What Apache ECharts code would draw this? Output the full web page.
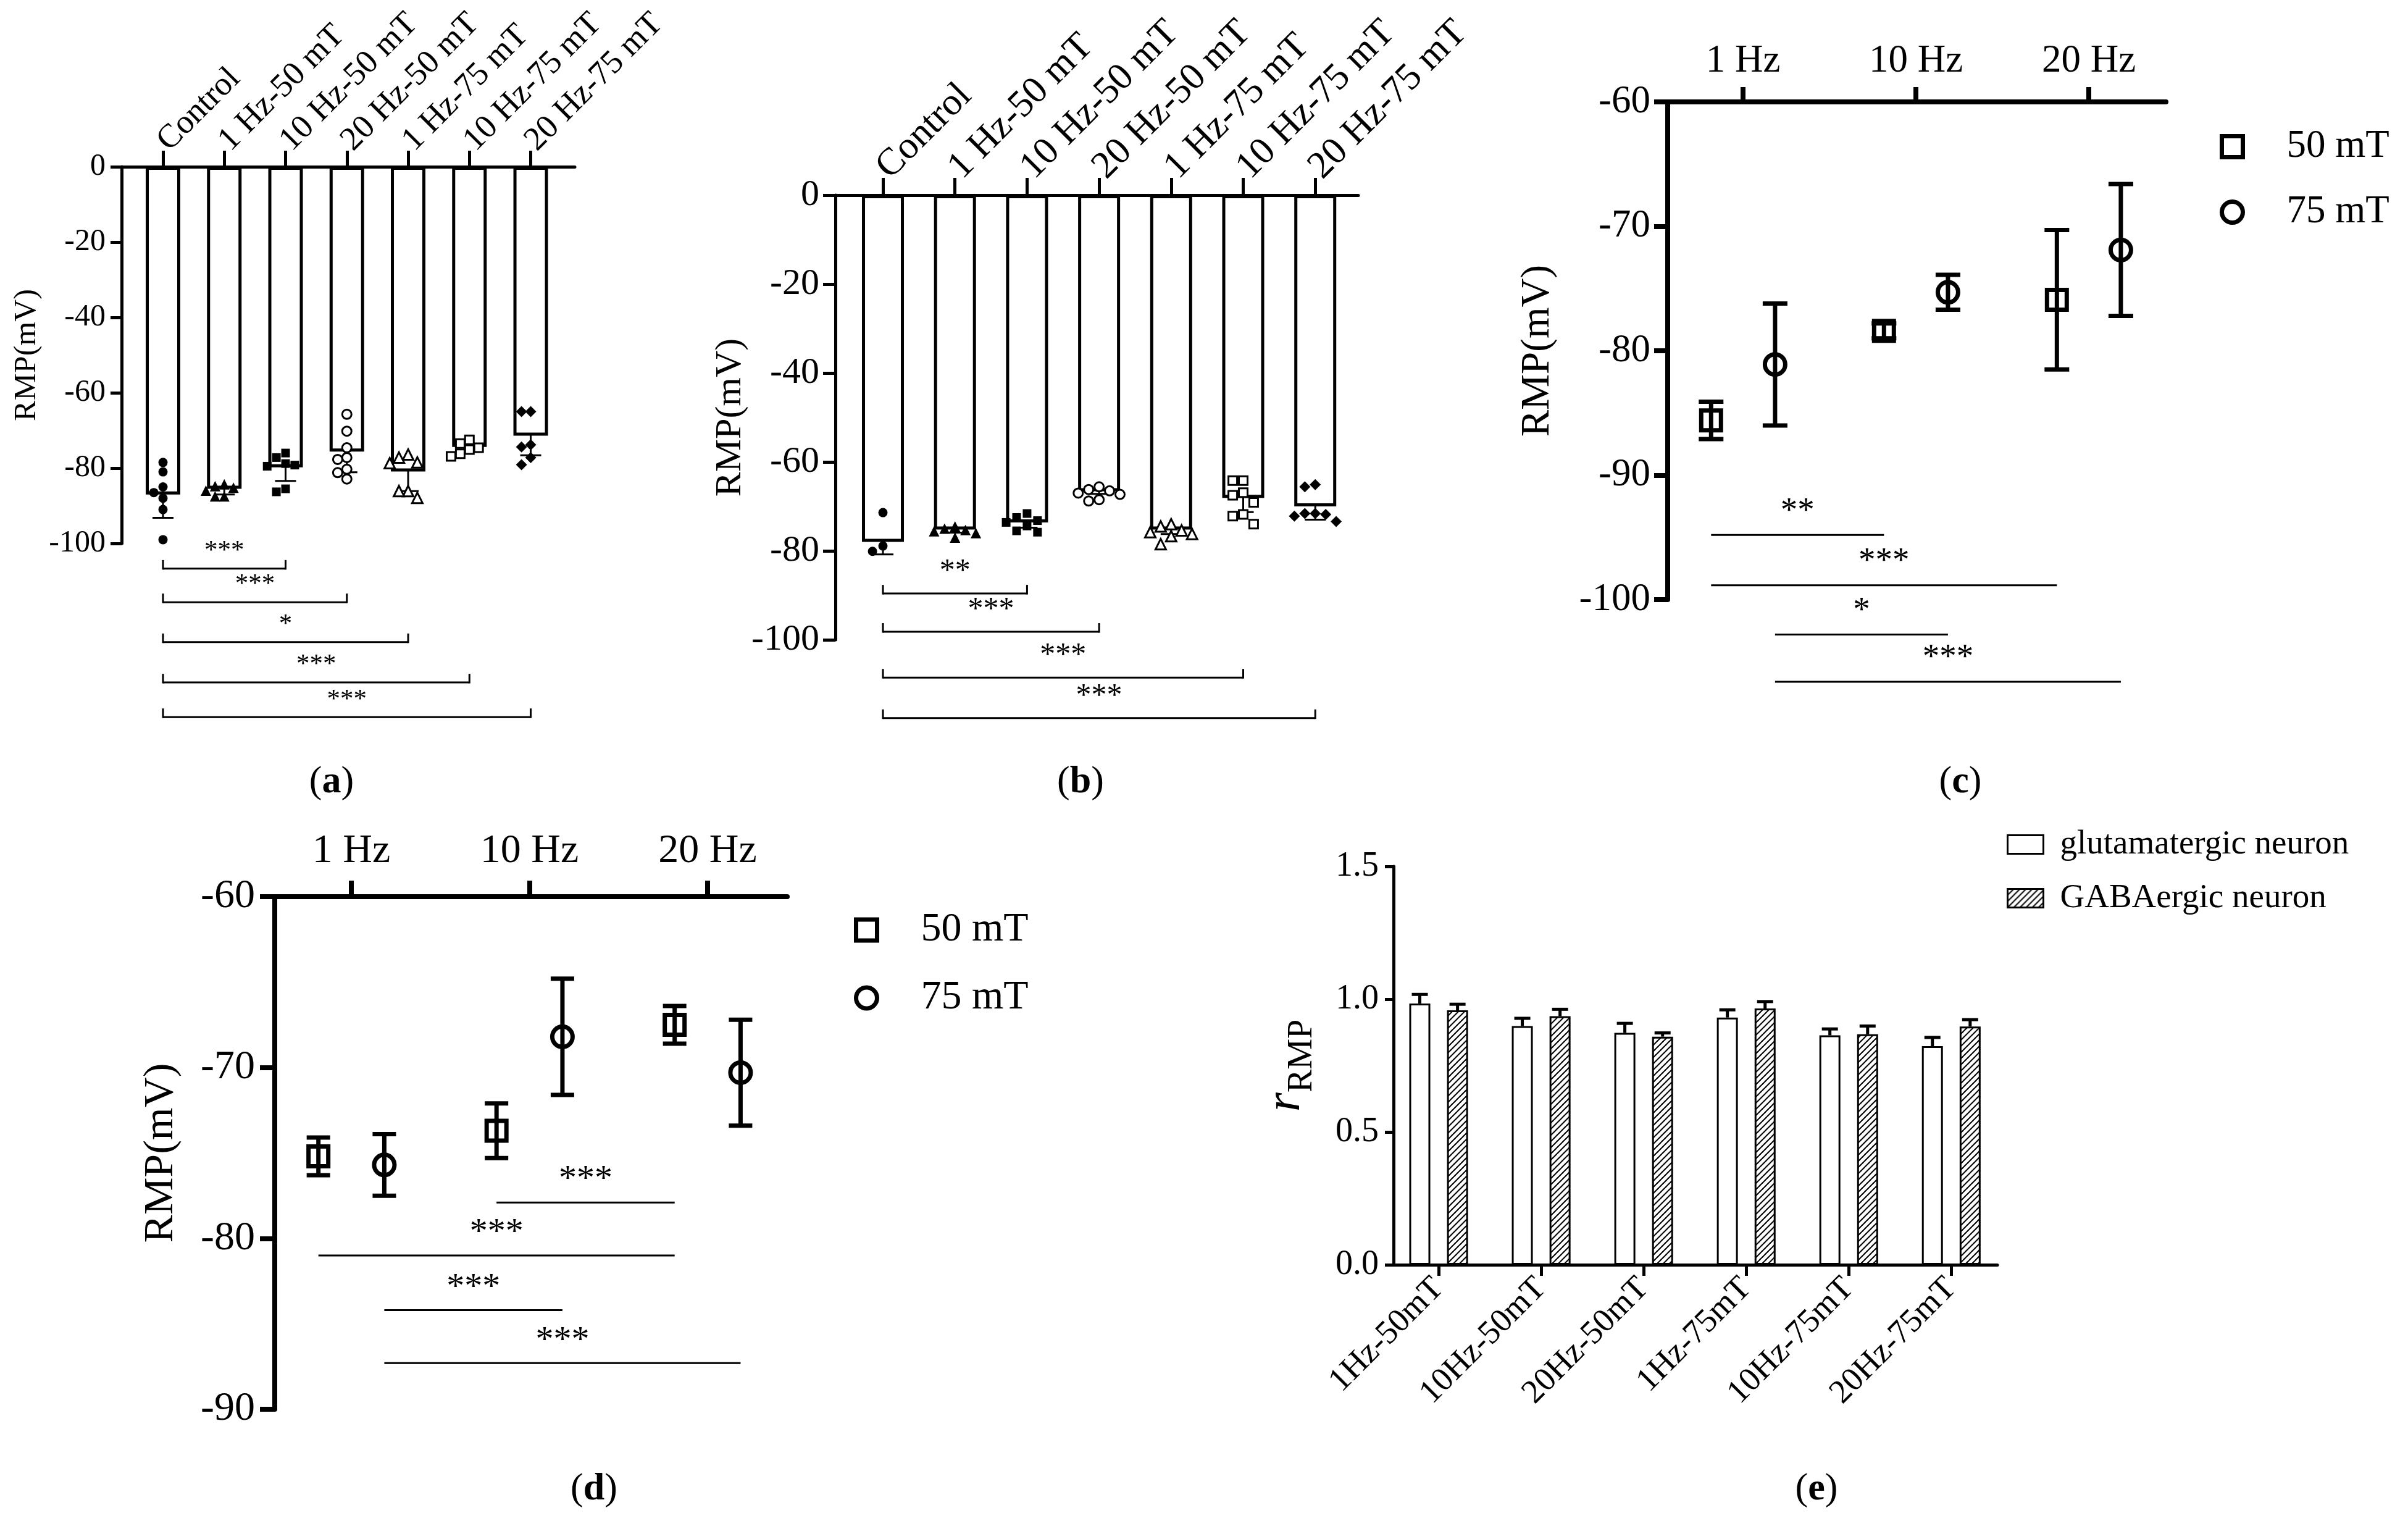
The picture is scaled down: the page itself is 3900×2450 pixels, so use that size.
<!DOCTYPE html>
<html><head><meta charset="utf-8">
<script src="https://cdn.jsdelivr.net/npm/echarts@6/dist/echarts.min.js"></script>
<style>html,body{margin:0;padding:0;background:#fff}#c{width:3900px;height:2450px}</style>
</head><body><div id="c"></div>
<script>
const FONT = 'Liberation Serif';

// ---------- Panel (a) / (b) ----------
const catsAB = ['Control','1 Hz-50 mT','10 Hz-50 mT','20 Hz-50 mT','1 Hz-75 mT','10 Hz-75 mT','20 Hz-75 mT'];
const aMean = [-87.0,-85.5,-79.8,-75.6,-80.9,-74.4,-71.4];
const aErr  = [6.2,1.5,3.6,5.5,5.2,1.0,5.2];
const aPts = [
  [-78.5,-81,-85,-86.5,-88,-91,-99],
  [-84.3,-84.8,-85.2,-86,-87.5,-87.5],
  [-76,-77.2,-78.8,-79.2,-79.5,-85.5,-86.3],
  [-65.7,-70.2,-74.6,-77.2,-77.7,-80.3,-81.2,-82.9],
  [-76.4,-77.2,-78.5,-78.7,-86.1,-86.1,-87.9],
  [-72.5,-73.5,-74.6,-75.1,-76.2,-76.9],
  [-65,-65,-73.8,-74.4,-77.2,-79.1]
];
const aSigFrom = [0,0,0,0,0];
const aSigTo   = [2,3,4,5,6];
const aSigText = ['***','***','*','***','***'];
const aSigLevel = [-106.7,-115.6,-126.2,-136.9,-146.1];

const bMean = [-78.0,-75.2,-73.6,-66.6,-75.2,-68.1,-70.0];
const bErr  = [2.8,0.7,1.2,0.6,1.0,3.2,3.0];
const bPts = [
  [-71.4,-78.9,-80.1],
  [-74.5,-75,-75.3,-75.6,-76,-77],
  [-71.6,-72.5,-73.2,-73.6,-74.4,-75.5,-75.8],
  [-65.6,-66.2,-66.5,-67,-67.3,-68.5,-68.8],
  [-74,-74.5,-75.4,-75.8,-76.2,-76.7,-78.5],
  [-64.2,-64.2,-66.9,-67.5,-69.1,-71.8,-72.2,-74],
  [-65.1,-65.6,-71.6,-71.6,-71.8,-72.2,-73.4]
];
const bSigFrom = [0,0,0,0];
const bSigTo   = [2,3,5,6];
const bSigText = ['**','***','***','***'];
const bSigLevel = [-89.6,-98.2,-108.5,-117.6];

// ---------- Panel (c) / (d) ----------
const freqs = ['1 Hz','10 Hz','20 Hz'];
const fieldNames = ['50 mT','75 mT'];
const c50Mean = [-85.6,-78.4,-75.9], c50Err = [1.5,0.6,5.6];
const c75Mean = [-81.1,-75.3,-71.9], c75Err = [4.9,1.4,5.3];
// significance: [field, freq] -> [field, freq]
const cSigFrom = [[0,0],[0,0],[1,0],[1,0]];
const cSigTo   = [[0,1],[0,2],[1,1],[1,2]];
const cSigText = ['**','***','*','***'];
const cSigLevel = [-94.8,-98.85,-102.8,-106.6];

const d50Mean = [-75.2,-73.7,-67.5], d50Err = [1.1,1.6,1.1];
const d75Mean = [-75.7,-68.2,-70.3], d75Err = [1.8,3.4,3.1];
const dSigFrom = [[0,1],[0,0],[1,0],[1,0]];
const dSigTo   = [[0,2],[0,2],[1,1],[1,2]];
const dSigText = ['***','***','***','***'];
const dSigLevel = [-77.9,-81.0,-84.2,-87.3];

// ---------- Panel (e) ----------
const eCats = ['1Hz-50mT','10Hz-50mT','20Hz-50mT','1Hz-75mT','10Hz-75mT','20Hz-75mT'];
const eSeriesNames = ['glutamatergic neuron','GABAergic neuron'];
const glutMean = [0.984,0.899,0.873,0.931,0.864,0.823];
const glutErr  = [0.034,0.029,0.036,0.029,0.024,0.033];
const gabaMean = [0.958,0.936,0.859,0.965,0.868,0.897];
const gabaErr  = [0.023,0.026,0.014,0.026,0.031,0.026];

// ---------- styles ----------
const markAB = [
  {symbol:'circle', fill:true, size:15},
  {symbol:'triangle', fill:true, size:17},
  {symbol:'rect', fill:true, size:14},
  {symbol:'circle', fill:false, size:15},
  {symbol:'triangle', fill:false, size:17},
  {symbol:'rect', fill:false, size:14},
  {symbol:'diamond', fill:true, size:18}
];
const FIELD_OFF = 0.185;   // group offset of 50 / 75 mT in c, d
const E_OFF = 0.184;       // offset of paired bars in e

function swarm(vals, yTol, dx){
  const idx = vals.map((v,i)=>i).sort((a,b)=>vals[b]-vals[a]);
  const placed = [], off = new Array(vals.length).fill(0);
  for (const i of idx){
    const cands=[0]; for(let k=1;k<6;k++){cands.push(-k*dx,k*dx);}
    for (const c of cands){
      if (placed.every(p => Math.abs(vals[p.i]-vals[i]) >= yTol || Math.abs(p.o-c) >= dx*0.95)){
        off[i]=c; placed.push({i:i,o:c}); break;
      }
    }
  }
  return off;
}

function errRender(capW, lw, upOnly){
  return function(params, api){
    const x=api.value(0), m=api.value(1), e=api.value(2);
    const top=api.coord([x,m+e]), bot=api.coord([x, upOnly ? m : m-e]);
    const st={stroke:'#000', lineWidth:lw, lineCap:'butt'};
    const ch=[
      {type:'line', shape:{x1:top[0],y1:top[1],x2:bot[0],y2:bot[1]}, style:st},
      {type:'line', shape:{x1:top[0]-capW/2,y1:top[1],x2:top[0]+capW/2,y2:top[1]}, style:st}
    ];
    if(!upOnly) ch.push({type:'line', shape:{x1:bot[0]-capW/2,y1:bot[1],x2:bot[0]+capW/2,y2:bot[1]}, style:st});
    return {type:'group', children:ch};
  };
}

function sigRender(texts, tickLen, lw, fs, textOff){
  return function(params, api){
    const x1=api.value(0), x2=api.value(1), y=api.value(2);
    const p1=api.coord([x1,y]), p2=api.coord([x2,y]);
    const st={stroke:'#000', lineWidth:lw};
    const ch=[{type:'line', shape:{x1:p1[0],y1:p1[1],x2:p2[0],y2:p2[1]}, style:st}];
    if(tickLen>0){
      ch.push({type:'line', shape:{x1:p1[0],y1:p1[1]+lw/2,x2:p1[0],y2:p1[1]-tickLen}, style:st});
      ch.push({type:'line', shape:{x1:p2[0],y1:p2[1]+lw/2,x2:p2[0],y2:p2[1]-tickLen}, style:st});
    }
    ch.push({type:'text', x:(p1[0]+p2[0])/2, y:p1[1]-textOff,
      style:{text:texts[params.dataIndex], fontSize:fs, fontFamily:FONT, fill:'#000', align:'center', verticalAlign:'middle'}});
    return {type:'group', children:ch};
  };
}

function hatchCanvas(){
  const s=10, c=document.createElement('canvas'); c.width=s; c.height=s;
  const g=c.getContext('2d'); g.fillStyle='#fff'; g.fillRect(0,0,s,s);
  g.strokeStyle='#000'; g.lineWidth=2;
  g.beginPath();
  g.moveTo(0,s); g.lineTo(s,0);
  g.moveTo(-s/2,s/2); g.lineTo(s/2,-s/2);
  g.moveTo(s/2,s*1.5); g.lineTo(s*1.5,s/2);
  g.stroke();
  return c;
}

const axLine = w => ({show:true, onZero:false, lineStyle:{color:'#000', width:w}});
const axTick = (w,len,custom) => { const t={show:true, length:len, lineStyle:{color:'#000', width:w}}; if(custom) t.customValues=custom; return t; };
const idx = n => Array.from({length:n},(v,i)=>i);

const grids = [
  {left:197, top:270, width:734, height:610},
  {left:1353, top:316, width:847, height:720},
  {left:2701, top:165, width:807, height:806},
  {left:445, top:1452, width:830, height:830},
  {left:2257, top:1403, width:978, height:645}
].map(g => Object.assign(g, {containLabel:false, outerBoundsMode:'none'}));

const xAxes = [
  {gridIndex:0, type:'value', position:'top', min:-0.675, max:6.72, axisLine:axLine(5), axisTick:axTick(5,26,idx(7)),
   axisLabel:{customValues:idx(7), formatter:v=>catsAB[Math.round(v)], rotate:-45, fontSize:54, margin:34, color:'#000', fontFamily:FONT}, splitLine:{show:false}},
  {gridIndex:1, type:'value', position:'top', min:-0.66, max:6.598, axisLine:axLine(5), axisTick:axTick(5,28,idx(7)),
   axisLabel:{customValues:idx(7), formatter:v=>catsAB[Math.round(v)], rotate:-45, fontSize:62, margin:36, color:'#000', fontFamily:FONT}, splitLine:{show:false}},
  {gridIndex:2, type:'value', position:'top', min:-0.436, max:2.446, axisLine:axLine(8), axisTick:axTick(8,24,idx(3)),
   axisLabel:{customValues:idx(3), formatter:v=>freqs[Math.round(v)], fontSize:63, margin:34, color:'#000', fontFamily:FONT}, splitLine:{show:false}},
  {gridIndex:3, type:'value', position:'top', min:-0.43, max:2.447, axisLine:axLine(8), axisTick:axTick(8,26,idx(3)),
   axisLabel:{customValues:idx(3), formatter:v=>freqs[Math.round(v)], fontSize:66, margin:40, color:'#000', fontFamily:FONT}, splitLine:{show:false}},
  {gridIndex:4, type:'value', position:'bottom', min:-0.44, max:5.45, axisLine:axLine(5), axisTick:axTick(5,18,idx(6)),
   axisLabel:{customValues:idx(6), formatter:v=>eCats[Math.round(v)], rotate:45, fontSize:54, margin:30, color:'#000', fontFamily:FONT}, splitLine:{show:false}}
];

function yAx(gi, min, max, interval, lw, tl, fs, margin, nameGap, nameFs, fmt){
  return {gridIndex:gi, type:'value', min:min, max:max, interval:interval, axisLine:axLine(lw), axisTick:axTick(lw,tl),
    axisLabel:{fontSize:fs, margin:margin, color:'#000', fontFamily:FONT, formatter:fmt},
    splitLine:{show:false}, name:'RMP(mV)', nameLocation:'middle', nameGap:nameGap, nameMoveOverlap:false,
    nameTextStyle:{fontSize:nameFs, color:'#000', fontFamily:FONT}};
}
const yAxes = [
  yAx(0,-100,0,20,5,18,50,26,128,50),
  yAx(1,-100,0,20,5,20,60,26,140,60),
  yAx(2,-100,-60,10,8,22,63,28,178,65),
  yAx(3,-90,-60,10,8,24,66,32,150,68),
  Object.assign(yAx(4,0,1.5,0.5,5,14,56,24,120,60, v=>v.toFixed(1)), {
    name:'{i|r}{s|RMP}',
    nameTextStyle:{fontFamily:FONT, color:'#000', rich:{
      i:{fontSize:80, fontStyle:'italic', fontFamily:FONT, color:'#000', verticalAlign:'bottom', padding:[0,0,14,0]},
      s:{fontSize:56, fontFamily:FONT, color:'#000', verticalAlign:'bottom'}}}
  })
];

const series = [];
// (a) and (b)
[[0,aMean,aErr,aPts,56,34,aSigFrom,aSigTo,aSigText,aSigLevel,43,28, 2.5,0.15],
 [1,bMean,bErr,bPts,68,34,bSigFrom,bSigTo,bSigText,bSigLevel,50,35, 2.3,0.145]].forEach(cfg=>{
  const [gi,mean,err,pts,bw,cap,sf,st,stx,sl,sfs,soff,yTol,dx]=cfg;
  series.push({type:'bar', xAxisIndex:gi, yAxisIndex:gi, barWidth:bw, data:mean.map((v,i)=>[i,v]),
    itemStyle:{color:'#fff', borderColor:'#000', borderWidth:5}, silent:true});
  series.push({type:'custom', xAxisIndex:gi, yAxisIndex:gi, clip:false, silent:true,
    data:mean.map((v,i)=>[i,v,err[i]]), renderItem:errRender(cap,3,false)});
  pts.forEach((arr,g)=>{
    const off=swarm(arr,yTol,dx), m=markAB[g];
    series.push({type:'scatter', xAxisIndex:gi, yAxisIndex:gi, symbol:m.symbol, symbolSize:m.size, silent:true,
      data:arr.map((v,j)=>[g+off[j],v]),
      itemStyle: m.fill ? {color:'#000', borderWidth:0, opacity:1} : {color:'#fff', borderColor:'#000', borderWidth:3, opacity:1}});
  });
  series.push({type:'custom', xAxisIndex:gi, yAxisIndex:gi, clip:false, silent:true,
    data:sf.map((f,k)=>[f,st[k],sl[k]]), renderItem:sigRender(stx,14,3,sfs,soff)});
});
// (c) and (d)
[[2,[c50Mean,c75Mean],[c50Err,c75Err],cSigFrom,cSigTo,cSigText,cSigLevel,55,38,40],
 [3,[d50Mean,d75Mean],[d50Err,d75Err],dSigFrom,dSigTo,dSigText,dSigLevel,58,36,38]].forEach(cfg=>{
  const [gi,means,errs,sf,st,stx,sl,sfs,soff,cap]=cfg;
  const xOf = (f,i) => i + (f===0 ? -FIELD_OFF : FIELD_OFF);
  means.forEach((mean,f)=>{
    series.push({type:'custom', xAxisIndex:gi, yAxisIndex:gi, clip:false, silent:true,
      data:mean.map((v,i)=>[xOf(f,i),v,errs[f][i]]), renderItem:errRender(cap,7,false)});
  });
  means.forEach((mean,f)=>{
    series.push({type:'scatter', name:fieldNames[f], xAxisIndex:gi, yAxisIndex:gi, silent:true,
      symbol: f===0 ? 'rect' : 'circle', symbolSize: f===0 ? 32 : 33,
      data:mean.map((v,i)=>[xOf(f,i),v]),
      itemStyle:{color:'rgba(0,0,0,0)', borderColor:'#000', borderWidth:7, opacity:1}});
  });
  series.push({type:'custom', xAxisIndex:gi, yAxisIndex:gi, clip:false, silent:true,
    data:sf.map((a,k)=>[xOf(a[0],a[1]), xOf(st[k][0],st[k][1]), sl[k]]), renderItem:sigRender(stx,0,3,sfs,soff)});
});
// (e)
const hatch = hatchCanvas();
[[glutMean,glutErr,-E_OFF,{color:'#fff', borderColor:'#000', borderWidth:3}],
 [gabaMean,gabaErr,E_OFF,{color:{image:hatch, repeat:'repeat'}, borderColor:'#000', borderWidth:3}]].forEach((cfg,k)=>{
  const [mean,err,off,style]=cfg;
  series.push({type:'bar', name:eSeriesNames[k], xAxisIndex:4, yAxisIndex:4, barWidth:34, barGap:'-100%', silent:true,
    data:mean.map((v,i)=>[i+off,v]), itemStyle:style});
});
[[glutMean,glutErr,-E_OFF],[gabaMean,gabaErr,E_OFF]].forEach(cfg=>{
  const [mean,err,off]=cfg;
  series.push({type:'custom', xAxisIndex:4, yAxisIndex:4, clip:false, silent:true,
    data:mean.map((v,i)=>[i+off,v,err[i]]), renderItem:errRender(26,5,true)});
});

const panelLabels = ['a','b','c','d','e'];
const labelPos = [[537,1267],[1750,1267],[3175,1267],[962,2412],[2942,2412]];
const graphic = panelLabels.map((t,i)=>({type:'text', x:labelPos[i][0], y:labelPos[i][1], silent:true,
  style:{text:'{p|(}{b|'+t+'}{p|)}', align:'center', verticalAlign:'middle',
    rich:{p:{fontSize:62, fontFamily:FONT, fill:'#000'}, b:{fontSize:62, fontFamily:FONT, fontWeight:'bold', fill:'#000'}}}}));

const legendCD = (left, top, fs, gap, pad) => ({data:fieldNames, orient:'vertical', left:left, top:top, padding:0,
  itemWidth:34, itemHeight:34, itemGap:gap, selectedMode:false,
  itemStyle:{color:'rgba(0,0,0,0)', borderColor:'#000', borderWidth:7},
  textStyle:{fontSize:fs, lineHeight:fs, fontFamily:FONT, color:'#000', padding:[0,0,0,pad]}});

const option = {
  animation:false, backgroundColor:'#fff',
  textStyle:{fontFamily:FONT, color:'#000'},
  grid:grids, xAxis:xAxes, yAxis:yAxes,
  legend:[
    legendCD(3595,206,63,43,66),
    legendCD(1383,1473,66,44,66),
    {data:eSeriesNames, orient:'vertical', left:3250, top:1340, padding:0, itemWidth:58, itemHeight:30, itemGap:32,
     icon:'rect', selectedMode:false, itemStyle:{borderColor:'#000', borderWidth:3},
     textStyle:{fontSize:55, lineHeight:55, fontFamily:FONT, color:'#000', padding:[0,0,0,22]}}
  ],
  graphic:graphic,
  series:series
};
const chart = echarts.init(document.getElementById('c'));
chart.setOption(option);
</script>
</body></html>
